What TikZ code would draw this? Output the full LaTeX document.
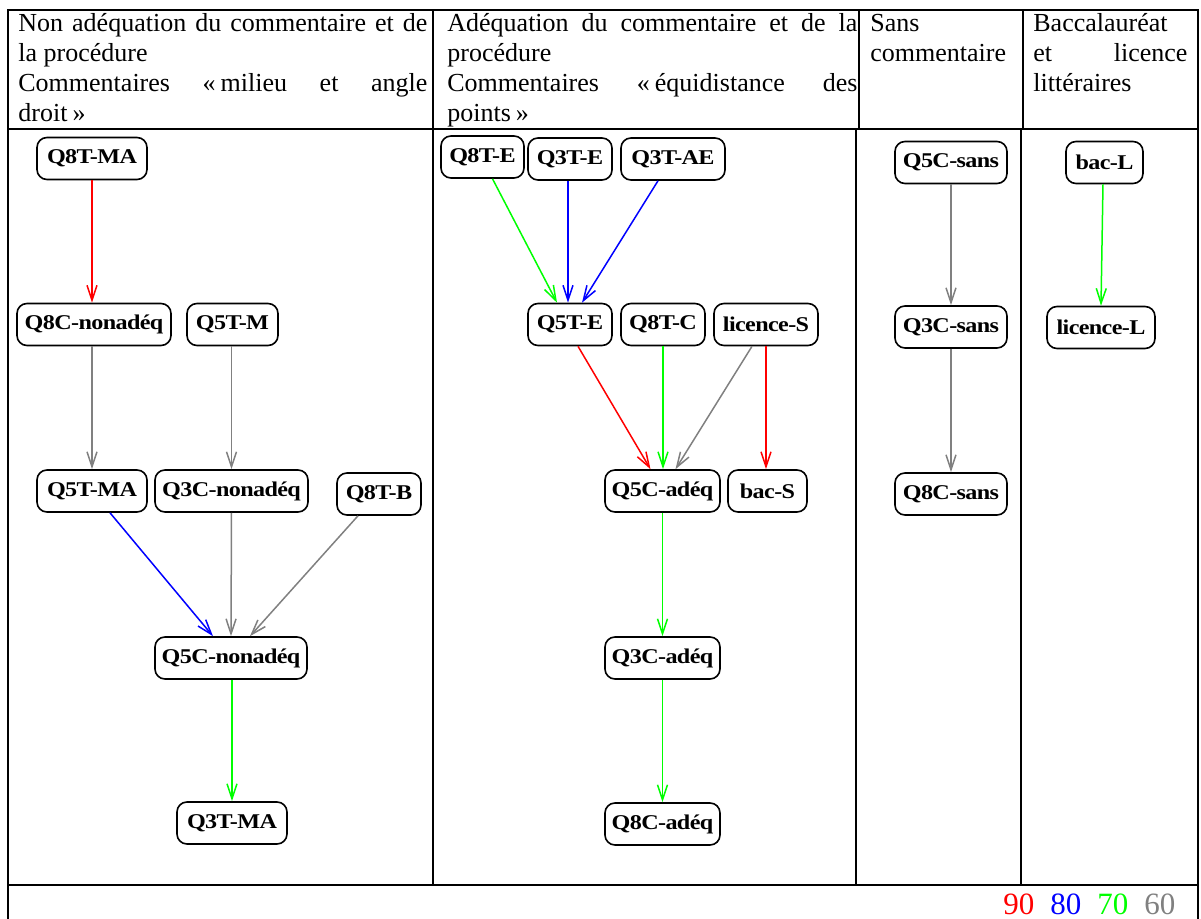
\documentclass[tikz,border=0pt]{standalone}
\usepackage{fontspec}
\setmainfont{Liberation Serif}
\newfontfamily\etatfont[FakeStretch=1.15,LetterSpace=-3]{Liberation Serif}
\usetikzlibrary{arrows.meta}

\begin{document}
\begin{tikzpicture}[x=0.5pt,y=-0.5pt,->,>={Straight Barb[length=7.5pt,width=5pt]},
  etat/.style={draw,rounded corners=5pt,line width=0.8pt,minimum height=21pt,inner sep=1pt,
    font=\etatfont\bfseries\fontsize{10.5}{12}\selectfont},
  entete/.style={anchor=north west,align=left,inner sep=0pt,font=\fontsize{13}{15}\selectfont},
  cadre/.style={-,line width=1pt},
  rouge/.style={red,line width=0.75pt},
  bleu/.style={blue,line width=0.75pt},
  vert/.style={green,line width=0.75pt},
  gris/.style={gray,line width=0.75pt}]
  \useasboundingbox (0,0) rectangle (1201,919);

  % Tableau
  \draw[cadre] (7.5,919) -- (7.5,10) -- (1197.5,10) -- (1197.5,919);
  \draw[cadre] (7.5,129) -- (1197.5,129);
  \draw[cadre] (7.5,885) -- (1197.5,885);
  \draw[cadre] (433,10) -- (433,885);
  \draw[cadre] (859,10) -- (859,129);
  \draw[cadre] (855.5,129) -- (855.5,885);
  \draw[cadre] (1023,10) -- (1023,129);
  \draw[cadre] (1021,129) -- (1021,885);

  % En-tetes
  \node[entete] (t1) at (18,10) {\strut\makebox[204.5pt][s]{Non adéquation du commentaire et de}\\
    \strut la procédure\\
    \strut\makebox[204.5pt][s]{Commentaires «\kern2.5pt milieu et angle}\\
    \strut droit\kern2.5pt»};
  \node[entete] (t2) at (447,10) {\strut\makebox[205pt][s]{Adéquation du commentaire et de la}\\
    \strut procédure\\
    \strut\makebox[205pt][s]{Commentaires «\kern2.5pt équidistance des}\\
    \strut points\kern2.5pt»};
  \node[entete] (t3) at (870,10) {\strut Sans\\ \strut commentaire};
  \node[entete] (t4) at (1033,10) {\strut Baccalauréat\\
    \strut\makebox[77pt][s]{et licence}\\
    \strut littéraires};

  % Non adequation
  \node[etat,minimum width=55pt] (q8tma) at (92,158.5) {Q8T-MA};
  \node[etat,minimum width=77pt] (q8cnon) at (94,324.5) {Q8C-nonadéq};
  \node[etat,minimum width=45.5pt] (q5tm) at (232.5,324.5) {Q5T-M};
  \node[etat,minimum width=55pt] (q5tma) at (92,491) {Q5T-MA};
  \node[etat,minimum width=76.5pt] (q3cnon) at (231.5,491) {Q3C-nonadéq};
  \node[etat,minimum width=42pt] (q8tb) at (379,494) {Q8T-B};
  \node[etat,minimum width=76pt] (q5cnon) at (231,658) {Q5C-nonadéq};
  \node[etat,minimum width=55pt] (q3tma) at (232,823) {Q3T-MA};

  % Adequation
  \node[etat,minimum width=41.5pt] (q8te) at (482.5,157) {Q8T-E};
  \node[etat,minimum width=42pt] (q3te) at (570,159) {Q3T-E};
  \node[etat,minimum width=52pt] (q3tae) at (673,159) {Q3T-AE};
  \node[etat,minimum width=42pt] (q5te) at (570,324.5) {Q5T-E};
  \node[etat,minimum width=42pt] (q8tc) at (663,324.5) {Q8T-C};
  \node[etat,minimum width=52pt] (licS) at (766,324.5) {licence-S};
  \node[etat,minimum width=57.5pt] (q5cadeq) at (662.5,491) {Q5C-adéq};
  \node[etat,minimum width=39.5pt] (bacS) at (767.5,491) {bac-S};
  \node[etat,minimum width=57.5pt] (q3cadeq) at (662.5,658) {Q3C-adéq};
  \node[etat,minimum width=57.5pt] (q8cadeq) at (662.5,824) {Q8C-adéq};

  % Sans commentaire
  \node[etat,minimum width=56pt] (q5csans) at (951,162.5) {Q5C-sans};
  \node[etat,minimum width=56pt] (q3csans) at (951,327) {Q3C-sans};
  \node[etat,minimum width=56pt] (q8csans) at (951,494) {Q8C-sans};

  % Bac et licence L
  \node[etat,minimum width=38.5pt] (bacL) at (1104.5,162.5) {bac-L};
  \node[etat,minimum width=54pt] (licL) at (1101,327.5) {licence-L};

  % Liens
  \path (q8tma.south) edge[rouge] ([xshift=-1pt]q8cnon.north);
  \path ([xshift=-1pt]q8cnon.south) edge[gris] (q5tma.north);
  \path ([xshift=-0.5pt]q5tm.south) edge[gris] (q3cnon.north);
  \path ([xshift=9pt]q5tma.south) edge[bleu] ([xshift=-9pt]q5cnon.north);
  \path (q3cnon.south) edge[gris] (q5cnon.north);
  \path ([xshift=-10.5pt]q8tb.south) edge[gris] ([xshift=9.5pt]q5cnon.north);
  \path ([xshift=0.5pt]q5cnon.south) edge[vert] (q3tma.north);

  \path ([xshift=5pt]q8te.south) edge[vert] ([xshift=-6.5pt]q5te.north);
  \path ([xshift=-1pt]q3te.south) edge[bleu] ([xshift=-1pt]q5te.north);
  \path ([xshift=-7.5pt]q3tae.south) edge[bleu] ([xshift=6pt]q5te.north);
  \path ([xshift=4pt]q5te.south) edge[rouge] ([xshift=-6pt]q5cadeq.north);
  \path (q8tc.south) edge[vert] ([xshift=0.25pt]q5cadeq.north);
  \path ([xshift=-7pt]licS.south) edge[gris] ([xshift=6.5pt]q5cadeq.north);
  \path (licS.south) edge[rouge] ([xshift=-0.75pt]bacS.north);
  \path (q5cadeq.south) edge[vert] (q3cadeq.north);
  \path (q3cadeq.south) edge[vert] (q8cadeq.north);

  \path (q5csans.south) edge[gris] (q3csans.north);
  \path (q3csans.south) edge[gris] (q8csans.north);
  \path ([xshift=-0.75pt]bacL.south) edge[vert] (licL.north);

  % Legende
  \node[anchor=base west,inner sep=0pt,font=\fontsize{15.5}{18}\selectfont] (leg) at (1003,914)
    {\textcolor{red}{90}\hspace{8pt}\textcolor{blue}{80}\hspace{8pt}\textcolor{green}{70}\hspace{8pt}\textcolor{gray}{60}};
\end{tikzpicture}
\end{document}
